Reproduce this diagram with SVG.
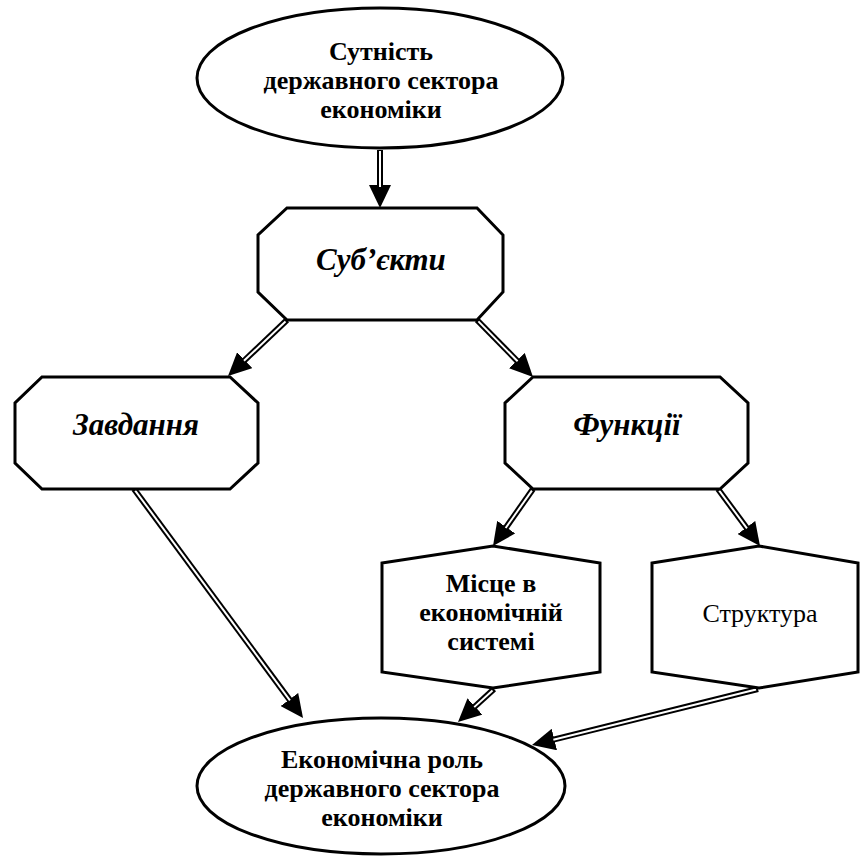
<svg xmlns="http://www.w3.org/2000/svg" width="862" height="857" viewBox="0 0 862 857">
<style>
.shape{fill:#fff;stroke:#000;stroke-width:3;stroke-linejoin:miter}
.t{font-family:"Liberation Serif","Times New Roman","DejaVu Serif",serif;fill:#000;text-anchor:middle}
.b{font-weight:bold;font-size:26px}
.bi{font-weight:bold;font-style:italic;font-size:31px}
.r{font-size:26px}
.outer{stroke:#000;stroke-width:6;fill:none;marker-end:url(#ah)}
.inner{stroke:#fff;stroke-width:2;fill:none}
</style>
<defs>
<marker id="ah" markerUnits="userSpaceOnUse" markerWidth="23" markerHeight="22" viewBox="0 0 23 22" refX="1" refY="11" orient="auto">
<path d="M0,0 L23,11 L0,22 z" fill="#000"/>
</marker>
</defs>
<rect width="862" height="857" fill="#fff"/>
<g id="connectors">
<line class="outer" x1="380" y1="150" x2="380" y2="186"/><line class="inner" x1="380" y1="151" x2="380" y2="187"/>
<line class="outer" x1="287" y1="320" x2="243.97" y2="360.85"/><line class="inner" x1="285.5" y1="321.4" x2="243.97" y2="360.85"/>
<line class="outer" x1="477" y1="320" x2="517.58" y2="361.31"/><line class="inner" x1="478.4" y1="321.4" x2="517.58" y2="361.31"/>
<line class="outer" x1="533" y1="489" x2="505.64" y2="527.99"/><line class="inner" x1="531.9" y1="490.6" x2="505.64" y2="527.99"/>
<line class="outer" x1="718" y1="489" x2="746.95" y2="528.29"/><line class="inner" x1="719.2" y1="490.6" x2="746.95" y2="528.29"/>
<line class="outer" x1="134" y1="489" x2="289.94" y2="700.3"/><line class="inner" x1="135.2" y1="490.6" x2="289.94" y2="700.3"/>
<line class="outer" x1="494" y1="689" x2="474.22" y2="707.13"/><line class="inner" x1="492.5" y1="690.4" x2="474.22" y2="707.13"/>
<line class="outer" x1="758" y1="689" x2="553.36" y2="739.71"/><line class="inner" x1="756.1" y1="689.5" x2="553.36" y2="739.71"/>
</g>
<g id="essence">
<ellipse class="shape" cx="380" cy="78" rx="183" ry="70"/>
<text class="t b" x="381" y="60">Сутність</text>
<text class="t b" x="381" y="89">державного сектора</text>
<text class="t b" x="381" y="118">економіки</text>
</g>
<g id="subjects">
<polygon class="shape" points="287,208 477,208 503,235 503,292 477,320 287,320 258,292 258,235"/>
<text class="t bi" x="381" y="270">Суб’єкти</text>
</g>
<g id="tasks">
<polygon class="shape" points="42,377 230,377 258,403 258,463 230,489 42,489 15,463 15,403"/>
<text class="t bi" x="136" y="435">Завдання</text>
</g>
<g id="functions">
<polygon class="shape" points="533,377 720,377 748,403 748,463 720,489 533,489 505,463 505,403"/>
<text class="t bi" x="627" y="435">Функції</text>
</g>
<g id="place">
<polygon class="shape" points="382,563 493,546 600,563 600,672 493,688 382,672"/>
<text class="t b" x="491" y="592">Місце в</text>
<text class="t b" x="491" y="621">економічній</text>
<text class="t b" x="491" y="650">системі</text>
</g>
<g id="structure">
<polygon class="shape" points="652,563 759,546 858,563 858,672 759,688 652,672"/>
<text class="t r" x="760" y="622">Структура</text>
</g>
<g id="role">
<ellipse class="shape" cx="381" cy="786" rx="184" ry="68"/>
<text class="t b" x="382" y="768">Економічна роль</text>
<text class="t b" x="382" y="797">державного сектора</text>
<text class="t b" x="382" y="826">економіки</text>
</g>
</svg>
